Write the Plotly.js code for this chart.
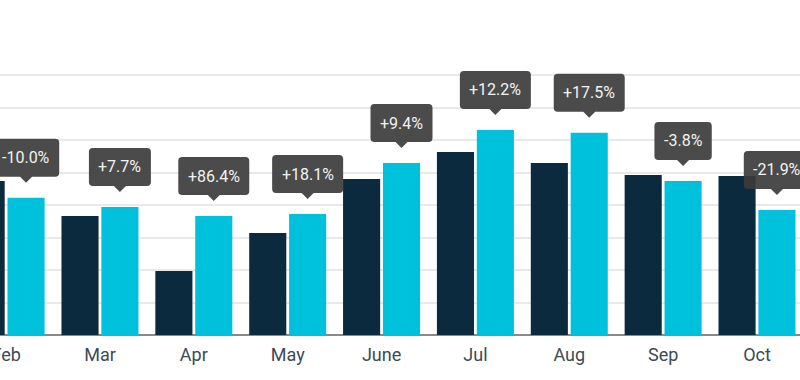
<!DOCTYPE html>
<html>
<head>
<meta charset="utf-8">
<script src="https://cdn.plot.ly/plotly-3.0.1.min.js"></script>
<style>
  html, body { margin: 0; padding: 0; background: #ffffff; }
  #chart { width: 800px; height: 380px; }
</style>
</head>
<body>
<div id="chart"></div>
<script>
// ---- data ----
const months = ['Feb', 'Mar', 'Apr', 'May', 'June', 'Jul', 'Aug', 'Sep', 'Oct'];
const previousYear = [47.4, 36.6, 19.7, 31.4, 48.0, 56.3, 52.9, 49.2, 48.9];
const currentYear  = [42.2, 39.4, 36.6, 37.2, 52.9, 63.1, 62.2, 47.4, 38.5];
const changeLabels = ['-10.0%', '+7.7%', '+86.4%', '+18.1%', '+9.4%', '+12.2%', '+17.5%', '-3.8%', '-21.9%'];
const gridTicks = [0, 10, 20, 30, 40, 50, 60, 70, 80];

// ---- style ----
const darkColor = '#0b2a3e';
const lightColor = '#00c1dc';
const calloutFill = 'rgba(60,60,60,0.92)';
const labelFont = 'Roboto, "Noto Sans", sans-serif';
const bargap = 0.15, bargroupgap = 0.07;
const lightOffset = (1 - bargap) / 4; // centre of 2nd bar in a group, category units

const canvas = document.createElement('canvas');
const ctx = canvas.getContext('2d');
ctx.font = '16px Roboto';

function calloutPath(w) {
  const h = w / 2, r = 4, top = 59, bot = 21, tip = 15, pw = 6;
  return `M ${-h + r},${top} L ${h - r},${top} Q ${h},${top} ${h},${top - r} ` +
         `L ${h},${bot + r} Q ${h},${bot} ${h - r},${bot} L ${pw},${bot} L 0,${tip} L ${-pw},${bot} ` +
         `L ${-h + r},${bot} Q ${-h},${bot} ${-h},${bot + r} L ${-h},${top - r} Q ${-h},${top} ${-h + r},${top} Z`;
}

const shapes = [];
const annotations = [];
months.forEach((m, i) => {
  const xa = i + lightOffset;
  const tw = ctx.measureText(changeLabels[i]).width;
  shapes.push({
    type: 'path', xref: 'x', yref: 'y',
    xsizemode: 'pixel', ysizemode: 'pixel',
    xanchor: xa, yanchor: currentYear[i],
    path: calloutPath(tw + 19),
    fillcolor: calloutFill, line: { width: 0 }, layer: 'above'
  });
  annotations.push({
    x: xa, y: currentYear[i], xref: 'x', yref: 'y',
    text: changeLabels[i], showarrow: false, yshift: 40,
    xanchor: 'center', yanchor: 'middle',
    font: { family: labelFont, size: 16, color: '#f2f2f2' }
  });
});

const traces = [
  { type: 'bar', name: 'Previous', x: months, y: previousYear,
    marker: { color: darkColor }, hoverinfo: 'skip' },
  { type: 'bar', name: 'Current', x: months, y: currentYear,
    marker: { color: lightColor }, hoverinfo: 'skip' }
];

const layout = {
  width: 800, height: 380,
  margin: { l: 0, r: 0, t: 10, b: 45, pad: 0 },
  paper_bgcolor: '#ffffff', plot_bgcolor: '#ffffff',
  showlegend: false,
  barmode: 'group', bargap: bargap, bargroupgap: bargroupgap,
  xaxis: {
    type: 'category', range: [-0.065, 8.458],
    showgrid: false, zeroline: false, showline: false, ticks: '',
    ticklabelstandoff: 7,
    tickfont: { family: labelFont, size: 18, color: '#3b4a56' },
    fixedrange: true
  },
  yaxis: {
    range: [0, 100], tickvals: gridTicks, showticklabels: false,
    showgrid: true, gridcolor: '#e9e9e9', gridwidth: 2,
    zeroline: true, zerolinecolor: '#8a8a8a', zerolinewidth: 2,
    showline: false, ticks: '', fixedrange: true
  },
  shapes: shapes,
  annotations: annotations
};

Plotly.newPlot('chart', traces, layout, { staticPlot: true, displayModeBar: false });
</script>
</body>
</html>
